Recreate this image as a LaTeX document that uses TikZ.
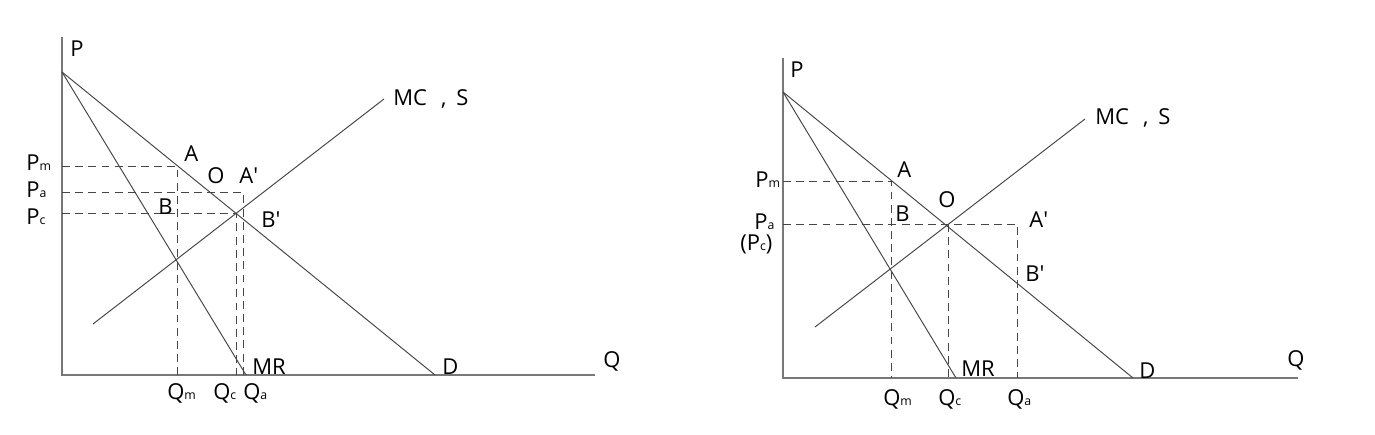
\documentclass[tikz,border=0pt]{standalone}
\usepackage{fontspec}
\setmainfont{Open Sans}
\usetikzlibrary{calc}
\definecolor{curveGray}{RGB}{70,70,70}
\definecolor{axisGray}{RGB}{120,120,120}
\newcommand{\Sb}[1]{{\fontsize{7}{7}\selectfont #1}}
\newcommand{\Prm}{\textquotesingle}
\newcommand{\LabelText}[1]{{\fontsize{12.5}{14}\selectfont #1}}
\tikzset{
  curve/.style={draw=curveGray,line width=0.55pt},
  axisline/.style={draw=axisGray,line width=0.9pt},
  guide/.style={draw=curveGray,line width=0.55pt,dash pattern=on 4.5pt off 3pt},
  lab/.style={anchor=base west,inner sep=0pt,text=black}
}

\begin{document}
\begin{tikzpicture}[x=0.02cm,y=-0.02cm]
\useasboundingbox (0,0) rectangle (1375,435);
% left panel: points
\coordinate (lO) at (62,375);
\coordinate (lPtop) at (62,37);
\coordinate (lQend) at (595,375);
\coordinate (lDtop) at (62,72);
\coordinate (lD) at (435,375);
\coordinate (lMR) at (246,375);
\coordinate (lMCa) at (93,324);
\coordinate (lMCb) at (384,99);
\coordinate (lPm) at (62,166);
\coordinate (lA) at (177,166);
\coordinate (lQm) at (177,375);
\coordinate (lPa) at (62,192);
\coordinate (lAp) at (243,192);
\coordinate (lQa) at (243,375);
\coordinate (lPc) at (62,213);
\coordinate (lC) at (236,213);
\coordinate (lQc) at (236,375);
% left panel: lines
\draw[axisline] (lPtop) -- (lO) -- (lQend);
\draw[curve] (lDtop) -- (lD);
\draw[curve] (lDtop) -- (lMR);
\draw[curve] (lMCa) -- (lMCb);
\draw[guide] (lPm) -- (lA) -- (lQm);
\draw[guide] (lPa) -- (lAp) -- (lQa);
\draw[guide] (lPc) -- (lC) -- (lQc);
% left panel: labels
\node[lab] (lLP) at (70,57) {\LabelText{P}};
\node[lab] (lLPm) at (26,171) {\LabelText{P\Sb{m}}};
\node[lab] (lLPa) at (26,198) {\LabelText{P\Sb{a}}};
\node[lab] (lLPc) at (26,225) {\LabelText{P\Sb{c}}};
\node[lab] (lLA) at (184,162) {\LabelText{A}};
\node[lab] (lLO) at (207,184) {\LabelText{O}};
\node[lab] (lLAp) at (239,184) {\LabelText{A\Prm}};
\node[lab] (lLB) at (158,215) {\LabelText{B}};
\node[lab] (lLBp) at (261,228) {\LabelText{B\Prm}};
\node[lab] (lLMC) at (393,106) {\LabelText{MC\hspace{0.28cm},\hspace{0.2cm}S}};
\node[lab] (lLMR) at (252,374) {\LabelText{MR}};
\node[lab] (lLD) at (442,374) {\LabelText{D}};
\node[lab] (lLQ) at (603,367) {\LabelText{Q}};
\node[lab] (lLQm) at (167,399) {\LabelText{Q\Sb{m}}};
\node[lab] (lLQc) at (213,399) {\LabelText{Q\Sb{c}}};
\node[lab] (lLQa) at (243,399) {\LabelText{Q\Sb{a}}};
% right panel: points
\coordinate (rO) at (783,378);
\coordinate (rPtop) at (783,58);
\coordinate (rQend) at (1298,378);
\coordinate (rDtop) at (783,92);
\coordinate (rD) at (1133,378);
\coordinate (rMR) at (956,378);
\coordinate (rMCa) at (815,327);
\coordinate (rMCb) at (1085,119);
\coordinate (rPm) at (783,181);
\coordinate (rA) at (891,181);
\coordinate (rQm) at (891,378);
\coordinate (rPa) at (783,224);
\coordinate (rE) at (948,224);
\coordinate (rQc) at (948,378);
\coordinate (rAp) at (1017,224);
\coordinate (rQa) at (1017,378);
% right panel: lines
\draw[axisline] (rPtop) -- (rO) -- (rQend);
\draw[curve] (rDtop) -- (rD);
\draw[curve] (rDtop) -- (rMR);
\draw[curve] (rMCa) -- (rMCb);
\draw[guide] (rPm) -- (rA) -- (rQm);
\draw[guide] (rPa) -- (rAp) -- (rQa);
\draw[guide] (rE) -- (rQc);
% right panel: labels
\node[lab] (rLP) at (790,78) {\LabelText{P}};
\node[lab] (rLPm) at (755,188) {\LabelText{P\Sb{m}}};
\node[lab] (rLPa) at (754,230) {\LabelText{P\Sb{a}}};
\node[lab] (rLPc) at (740,251) {\LabelText{(P\Sb{c})}};
\node[lab] (rLA) at (897,178) {\LabelText{A}};
\node[lab] (rLO) at (938,208) {\LabelText{O}};
\node[lab] (rLB) at (895,222) {\LabelText{B}};
\node[lab] (rLAp) at (1029,228) {\LabelText{A\Prm}};
\node[lab] (rLBp) at (1025,282) {\LabelText{B\Prm}};
\node[lab] (rLMC) at (1095,125) {\LabelText{MC\hspace{0.28cm},\hspace{0.2cm}S}};
\node[lab] (rLMR) at (961,377) {\LabelText{MR}};
\node[lab] (rLD) at (1139,378) {\LabelText{D}};
\node[lab] (rLQ) at (1287,366) {\LabelText{Q}};
\node[lab] (rLQm) at (883,405) {\LabelText{Q\Sb{m}}};
\node[lab] (rLQc) at (938,405) {\LabelText{Q\Sb{c}}};
\node[lab] (rLQa) at (1007,405) {\LabelText{Q\Sb{a}}};
\end{tikzpicture}
\end{document}
